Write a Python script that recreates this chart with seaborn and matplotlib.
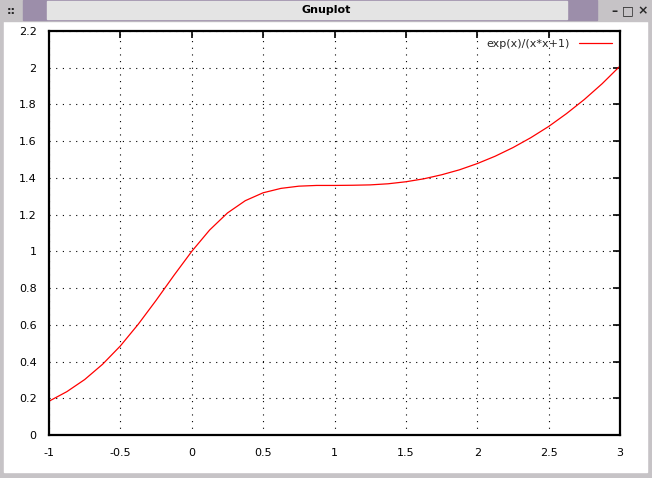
import matplotlib
matplotlib.use('Agg')
import matplotlib.pyplot as plt
import matplotlib.patches as mpatches
import seaborn as sns
import pandas as pd

# values
x_vals = [-1.0, -0.875, -0.75, -0.625, -0.5, -0.375, -0.25, -0.125, 0.0,
          0.125, 0.25, 0.375, 0.5, 0.625, 0.75, 0.875, 1.0, 1.125, 1.25,
          1.375, 1.5, 1.625, 1.75, 1.875, 2.0, 2.125, 2.25, 2.375, 2.5,
          2.625, 2.75, 2.875, 3.0]
y_vals = [0.184, 0.236, 0.302, 0.385, 0.485, 0.603, 0.733, 0.869, 1.0,
          1.116, 1.209, 1.276, 1.319, 1.343, 1.355, 1.359, 1.359, 1.360, 1.362,
          1.368, 1.379, 1.395, 1.417, 1.444, 1.478, 1.518, 1.565, 1.619, 1.680,
          1.750, 1.827, 1.913, 2.009]
x_ticks = [-1, -0.5, 0, 0.5, 1, 1.5, 2, 2.5, 3]
y_ticks = [0, 0.2, 0.4, 0.6, 0.8, 1, 1.2, 1.4, 1.6, 1.8, 2, 2.2]
series_name = 'exp(x)/(x*x+1)'


def tick_text(v):
    s = ('%.1f' % v).rstrip('0').rstrip('.')
    return s


def draw_window(fig):
    '''
    window frame around the plot
    '''
    W, H = 652, 478
    def rect(x, y, w, h, color, **kw):
        fig.patches.append(mpatches.Rectangle((x / W, 1 - (y + h) / H), w / W, h / H,
                                              transform=fig.transFigure, color=color,
                                              zorder=-5, **kw))
    rect(0, 0, W, H, '#c6c3c6')
    rect(4, 21, W - 9, H - 27, 'white')
    rect(0, 0, W, 21, '#c6c3c6')
    rect(23, 0, 574, 20, '#9c8eaa')
    rect(47, 1, 520, 18, '#e4e4e4')
    fig.text(0.5, 1 - 10 / H, 'Gnuplot', ha='center', va='center',
             fontsize=8, fontweight='bold', color='black')
    fig.text(11 / W, 1 - 11 / H, '::', ha='center', va='center', fontsize=8,
             fontweight='bold')
    for xp, s in [(614, '–'), (628, '□'), (643, '×')]:
        fig.text(xp / W, 1 - 11 / H, s, ha='center', va='center', fontsize=9,
                 fontweight='bold')


if __name__ == '__main__':
    sns.set_style('white')
    plt.rcParams['font.family'] = ['DejaVu Sans']
    fig = plt.figure(figsize=(6.52, 4.78), dpi=100)
    draw_window(fig)
    ax = fig.add_axes([49 / 652, (478 - 435) / 478, 571 / 652, (435 - 31) / 478])

    df = pd.DataFrame({'x': x_vals, 'y': y_vals})
    sns.lineplot(data=df, x='x', y='y', ax=ax, color='red', linewidth=0.9,
                 label=series_name)

    ax.set_xlim(-1, 3)
    ax.set_ylim(0, 2.2)
    ax.set_xticks(x_ticks)
    ax.set_yticks(y_ticks)
    ax.set_xticklabels([tick_text(v) for v in x_ticks])
    ax.set_yticklabels([tick_text(v) for v in y_ticks])
    ax.set_xlabel('')
    ax.set_ylabel('')
    ax.tick_params(direction='in', length=5, width=1.2, top=True, right=True,
                   labelsize=8, pad=9, colors='black')
    ax.grid(True, color='black', linestyle=(0, (1, 5)), linewidth=0.8)
    for sp in ax.spines.values():
        sp.set_linewidth(1.6)
        sp.set_color('black')

    leg = ax.legend(loc='upper right', frameon=False, markerfirst=False,
                    fontsize=8, handlelength=3, borderaxespad=0.3)

    fig.savefig('out.png', dpi=100)
